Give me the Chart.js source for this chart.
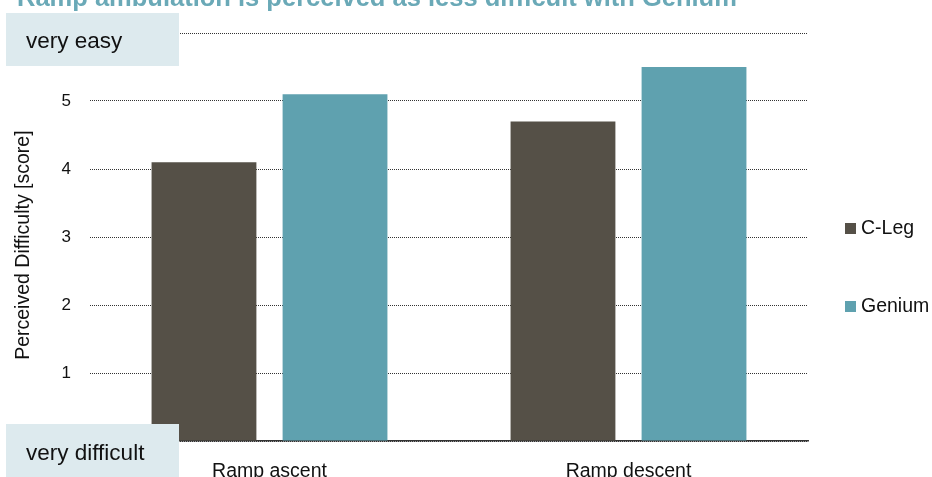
<!DOCTYPE html>
<html>
<head>
<meta charset="utf-8">
<script src="https://cdn.jsdelivr.net/npm/chart.js@4.4.0/dist/chart.umd.min.js"></script>
<style>
  html, body { margin: 0; padding: 0; background: #fff; }
  #wrap { position: relative; width: 932px; height: 477px; }
</style>
</head>
<body>
<div id="wrap"><canvas id="chart1"></canvas></div>
<script>
// chart data
const categories = ['Ramp ascent', 'Ramp descent'];
const cLeg = [4.1, 4.7];
const genium = [5.1, 5.5];
const yTicks = [0, 1, 2, 3, 4, 5, 6];

const FONT = '"Liberation Sans", Arial, Helvetica, sans-serif';
const dark = '#555047';
const teal = '#5fa1af';

// title, side boxes and legend, painted on top
const decor = {
  id: 'decor',
  afterDraw(chart) {
    const c = chart.ctx;
    c.save();
    c.fillStyle = '#6aa9b7';
    c.font = 'bold 25.5px ' + FONT;
    c.textBaseline = 'alphabetic';
    c.fillText('Ramp ambulation is perceived as less difficult with Genium', 17, 6);

    c.fillStyle = '#ddeaee';
    c.fillRect(6, 13, 173, 53);
    c.fillRect(6, 424, 173, 53);
    c.fillStyle = '#111';
    c.font = '22.5px ' + FONT;
    c.fillText('very easy', 26, 48);
    c.fillText('very difficult', 26, 460);

    // legend
    const ys = [234, 312];
    chart.data.datasets.forEach((ds, i) => {
      c.fillStyle = ds.backgroundColor;
      c.fillRect(845, ys[i] - 11, 11, 11);
      c.fillStyle = '#111';
      c.font = '19.5px ' + FONT;
      c.fillText(ds.label, 861, ys[i]);
    });
    c.restore();
  }
};

var graf = new Chart(document.getElementById('chart1'), {
  type: 'bar',
  data: {
    labels: categories,
    datasets: [
      { label: 'C-Leg', data: cLeg, backgroundColor: dark },
      { label: 'Genium', data: genium, backgroundColor: teal }
    ]
  },
  options: {
    responsive: true,
    maintainAspectRatio: false,
    animation: false,
    categoryPercentage: 0.73,
    barPercentage: 0.8,
    layout: { padding: { left: 0, right: 124, top: 33, bottom: 0 } },
    plugins: {
      legend: { display: false },
      tooltip: { enabled: false }
    },
    scales: {
      x: {
        grid: { display: false },
        border: { display: true, color: '#333', width: 1.5 },
        ticks: { color: '#111', font: { family: FONT, size: 19.5 }, padding: 11 },
        afterFit(s) { s.height = 36; }
      },
      y: {
        min: 0,
        max: 6,
        afterBuildTicks(s) { s.ticks = yTicks.map(v => ({ value: v })); },
        grid: { color: '#333', lineWidth: 1, drawTicks: false },
        border: { display: false, dash: [1, 1] },
        ticks: {
          color: '#111',
          font: { family: FONT, size: 17 },
          padding: 19,
          callback: v => (v === 0 || v === 6) ? '' : v
        },
        title: {
          display: true,
          // trailing spaces nudge the visible text a bit lower, as in the original
          text: 'Perceived Difficulty [score]   ',
          color: '#111',
          font: { family: FONT, size: 19.5 },
          padding: { top: 12, bottom: 0 }
        },
        afterFit(s) { s.width = 90; }
      }
    }
  },
  plugins: [decor]
});
</script>
</body>
</html>
